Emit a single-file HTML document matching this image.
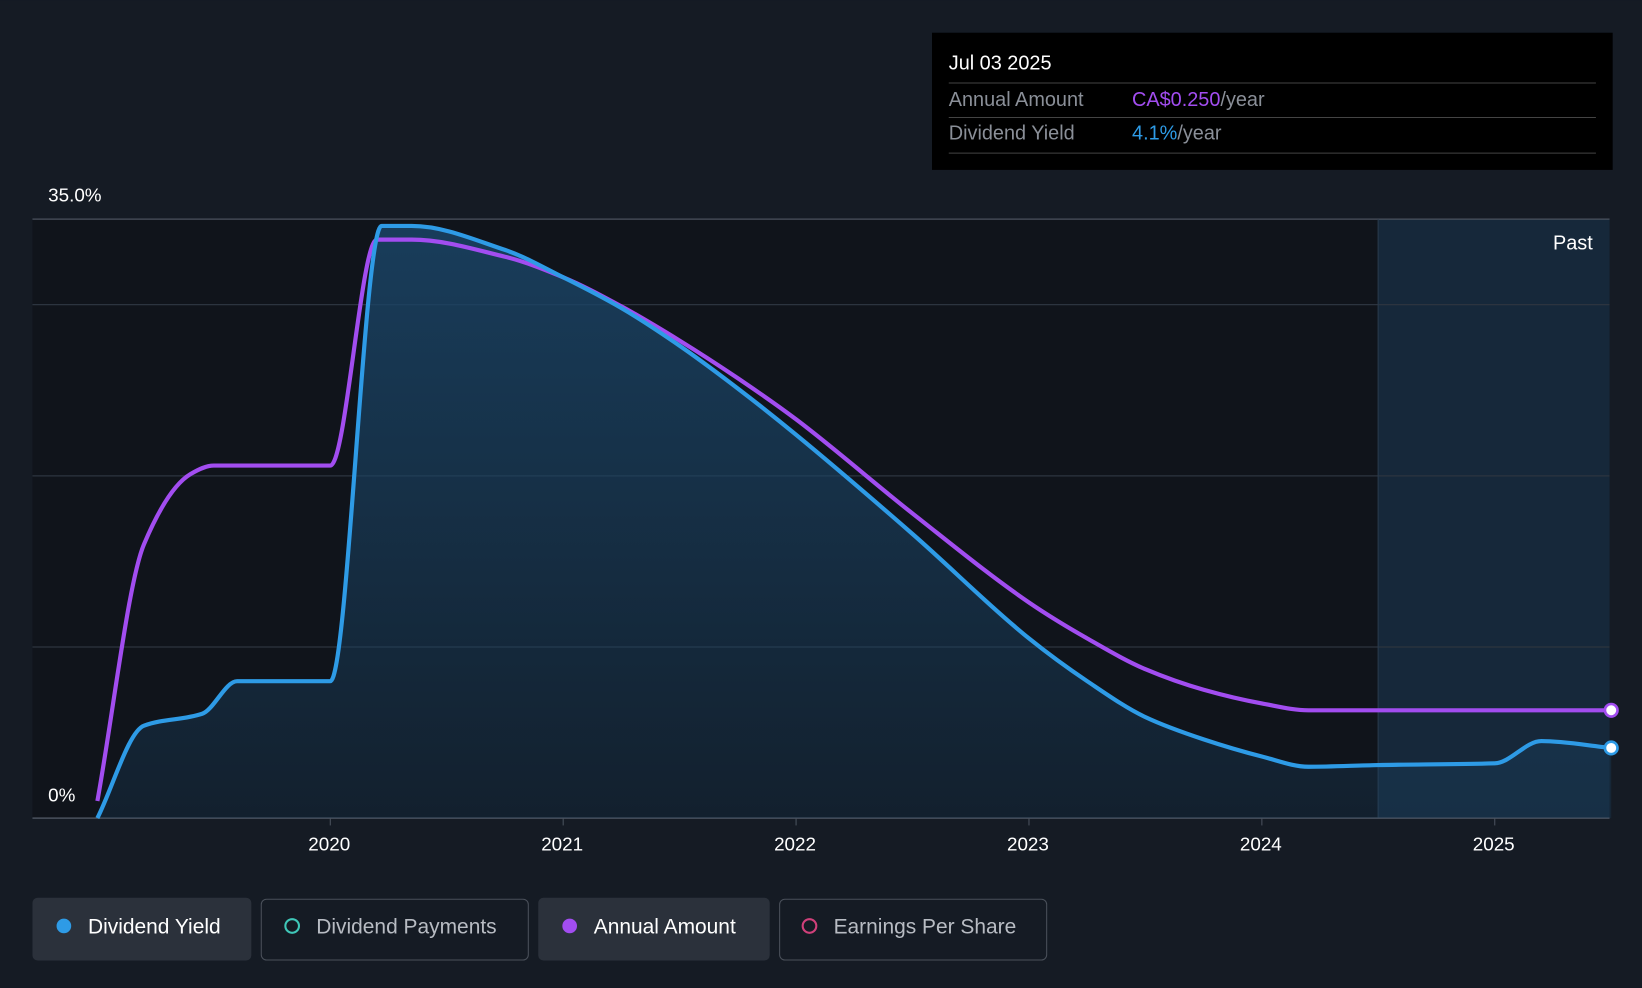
<!DOCTYPE html>
<html><head><meta charset="utf-8"><style>
html,body{margin:0;padding:0;background:#151b24;}
svg{display:block;font-family:"Liberation Sans",sans-serif;}
</style></head><body>
<svg id="c" width="1642" height="988" viewBox="0 0 1568 943">
<defs>
<linearGradient id="fillg" x1="0" y1="0" x2="0" y2="1"><stop offset="0" stop-color="#1a4466" stop-opacity="0.85"/><stop offset="1" stop-color="#1a4466" stop-opacity="0.25"/></linearGradient>
</defs>
<rect width="1568" height="943" fill="#151b24"/>
<rect x="31" y="209" width="1285" height="572" fill="#10141b"/>
<rect x="1316" y="209" width="221" height="572" fill="#16283a"/>
<g id="grid"></g>
<g id="series"></g>
<text x="1521" y="238" fill="#fff" font-size="19" text-anchor="end">Past</text>
<text x="46" y="192" fill="#fff" font-size="18">35.0%</text>
<text x="46" y="765" fill="#fff" font-size="18">0%</text>
<g id="xticks"></g>
<g>
<rect x="890" y="31" width="650" height="131" fill="#000"/>
<text x="906" y="66" fill="#fff" font-size="19">Jul 03 2025</text>
<line x1="906" y1="79" x2="1524" y2="79" stroke="#444"/>
<text x="906" y="101" fill="#8a8f98" font-size="19">Annual Amount</text>
<text x="1081" y="101" font-size="19"><tspan fill="#a24df0">CA$0.250</tspan><tspan fill="#8a8f98">/year</tspan></text>
<line x1="906" y1="112" x2="1524" y2="112" stroke="#444"/>
<text x="906" y="133" fill="#8a8f98" font-size="19">Dividend Yield</text>
<text x="1081" y="133" font-size="19"><tspan fill="#2e9be6">4.1%</tspan><tspan fill="#8a8f98">/year</tspan></text>
<line x1="906" y1="146" x2="1524" y2="146" stroke="#444"/>
</g>
<g>
<g><rect x="31" y="857" width="209" height="60" rx="5" fill="#2b313b"/><circle cx="61" cy="884" r="7" fill="#2e9be6"/><text x="84" y="891" fill="#fff" font-size="20">Dividend Yield</text></g>
<g><rect x="249.5" y="858.5" width="255" height="58" rx="5" fill="none" stroke="#4a505a"/><circle cx="279" cy="884" r="6.5" fill="none" stroke="#3fc7b8" stroke-width="2"/><text x="302" y="891" fill="#b8bcc3" font-size="20">Dividend Payments</text></g>
<g><rect x="514" y="857" width="221" height="60" rx="5" fill="#2b313b"/><circle cx="544" cy="884" r="7" fill="#a24df0"/><text x="567" y="891" fill="#fff" font-size="20">Annual Amount</text></g>
<g><rect x="744.5" y="858.5" width="255" height="58" rx="5" fill="none" stroke="#4a505a"/><circle cx="773" cy="884" r="6.5" fill="none" stroke="#d0407a" stroke-width="2"/><text x="796" y="891" fill="#b8bcc3" font-size="20">Earnings Per Share</text></g>
</g>
</svg>
<script>
const yieldT=[2019.0,2019.2,2019.45,2019.6,2020.0,2020.22,2020.35,2020.75,2021.0,2021.25,2021.5,2021.75,2022.0,2022.5,2023.0,2023.25,2023.5,2023.75,2024.0,2024.2,2024.5,2025.0,2025.2,2025.5];
const yieldV=[0,5.4,6.1,8.0,8.0,34.6,34.6,33.2,31.6,29.8,27.6,25.1,22.4,16.6,10.5,8.0,5.9,4.6,3.6,3.0,3.1,3.2,4.5,4.1];
const amountT=[2019.0,2019.2,2019.4,2019.5,2020.0,2020.2,2020.35,2020.75,2021.0,2021.25,2021.5,2021.75,2022.0,2022.5,2023.0,2023.25,2023.5,2023.75,2024.0,2024.2,2025.5];
const amountV=[1.0,16,20.1,20.6,20.6,33.8,33.8,32.8,31.6,29.9,27.9,25.7,23.3,17.8,12.6,10.5,8.7,7.5,6.7,6.3,6.3];
const xTicks=[2020,2021,2022,2023,2024,2025];
const yGrid=[10,20,30,35];
const NS="http://www.w3.org/2000/svg";
const X=t=>93+(t-2019)*222.4;
const Y=v=>781-v*16.343;
function mk(tag,attrs,parent){const e=document.createElementNS(NS,tag);for(const k in attrs)e.setAttribute(k,attrs[k]);parent.appendChild(e);return e;}
function path(ts,vs){const p=ts.map((t,i)=>[X(t),Y(vs[i])]);const n=p.length;const d=[],m=[];
for(let i=0;i<n-1;i++)d.push((p[i+1][1]-p[i][1])/(p[i+1][0]-p[i][0]));
m[0]=d[0];m[n-1]=d[n-2];for(let i=1;i<n-1;i++)m[i]=d[i-1]*d[i]<=0?0:2/(1/d[i-1]+1/d[i]);
let s="M"+p[0][0]+","+p[0][1];for(let i=0;i<n-1;i++){const h=(p[i+1][0]-p[i][0])/3;
s+=` C${p[i][0]+h},${p[i][1]+m[i]*h} ${p[i+1][0]-h},${p[i+1][1]-m[i+1]*h} ${p[i+1][0]},${p[i+1][1]}`;}return s;}
const g=document.getElementById('grid');
yGrid.forEach(v=>{const l=mk('line',{x1:31,x2:1537,y1:Y(v),y2:Y(v),stroke:v==35?'#4a525e':'#2c343f','stroke-width':1.2},g);

});
const d1=mk('line',{x1:1316,x2:1316,y1:209,y2:781,stroke:'#2a3a4c'},g);


const ax=mk('line',{x1:31,x2:1537,y1:781,y2:781,stroke:'#4a525e','stroke-width':1.5},g);


const xt=document.getElementById('xticks');
xTicks.forEach(t=>{mk('line',{x1:X(t),x2:X(t),y1:781,y2:788,stroke:'#4a525e'},xt);
const tx=mk('text',{x:X(t)-1,y:812,fill:'#fff','font-size':18,'text-anchor':'middle'},xt);tx.textContent=t;

});
const s=document.getElementById('series');
const yp=path(yieldT,yieldV);
const area=mk('path',{d:yp+` L${X(yieldT[yieldT.length-1])},781 L${X(yieldT[0])},781 Z`,fill:'url(#fillg)'},s);


const la=mk('path',{d:path(amountT,amountV),fill:'none',stroke:'#a24df0','stroke-width':4},s);


const ly=mk('path',{d:yp,fill:'none',stroke:'#2e9be6','stroke-width':4},s);


const ea=mk('circle',{cx:X(amountT[amountT.length-1]),cy:Y(amountV[amountV.length-1]),r:6,fill:'#fff',stroke:'#a24df0','stroke-width':2.5},s);


const ey=mk('circle',{cx:X(yieldT[yieldT.length-1]),cy:Y(yieldV[yieldV.length-1]),r:6,fill:'#fff',stroke:'#2e9be6','stroke-width':2.5},s);


</script>
</body></html>
